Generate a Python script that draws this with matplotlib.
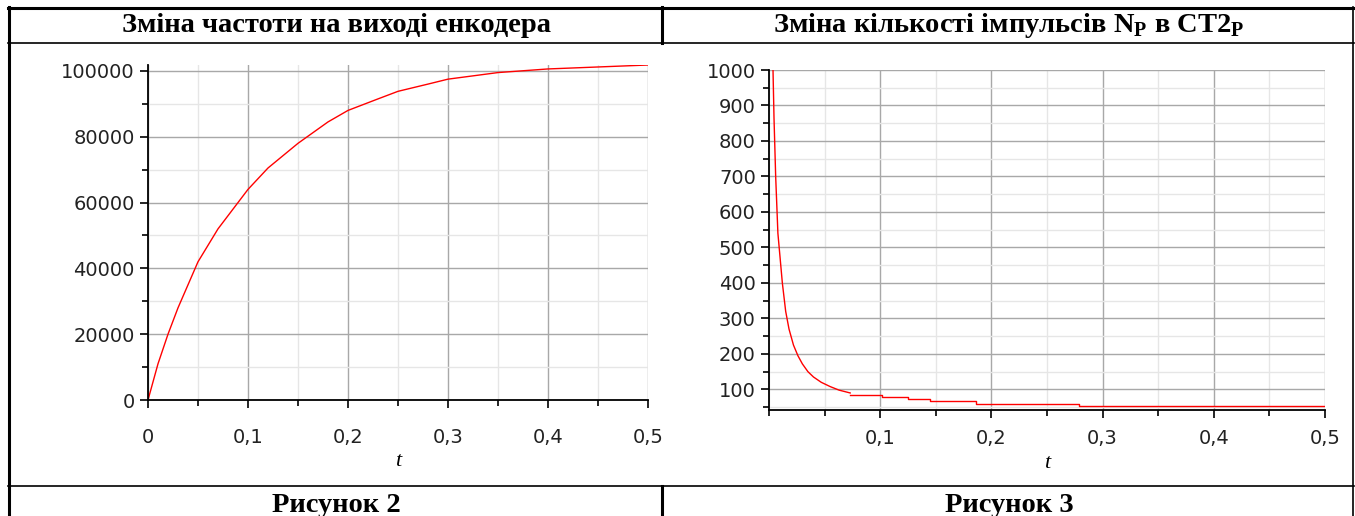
import matplotlib.pyplot as plt
from matplotlib.lines import Line2D
from matplotlib.ticker import MultipleLocator

plt.rcParams['mathtext.fontset'] = 'custom'
plt.rcParams['mathtext.rm'] = 'Liberation Serif:bold'

# encoder output frequency
t_freq = [0.0, 0.005, 0.01, 0.02, 0.03, 0.04, 0.05, 0.06, 0.07, 0.08, 0.10, 0.12, 0.15,
          0.18, 0.20, 0.23, 0.25, 0.28, 0.30, 0.35, 0.40, 0.45, 0.50]
freq = [0, 5500, 11000, 20000, 28000, 35000, 42000, 47000, 52000, 56000, 64000, 70500, 78000,
        84500, 88000, 91500, 93800, 96000, 97500, 99500, 100600, 101200, 101800]

# pulse count N_P, steep start
t_pulse = [0.0036, 0.0045, 0.006, 0.008, 0.010, 0.012, 0.015, 0.018, 0.022, 0.026, 0.030,
           0.035, 0.040, 0.047, 0.055, 0.063, 0.073]
pulses = [1000, 865, 700, 540, 470, 400, 320, 270, 225, 195, 172,
          150, 135, 120, 108, 98, 90]
# pulse count, stepped tail
t_steps = [0.073, 0.102, 0.125, 0.145, 0.186, 0.279, 0.5]
n_steps = [85, 78, 72, 66, 60, 54, 54]

xticks_left = [0, 0.1, 0.2, 0.3, 0.4, 0.5]
xlabels_left = ['0', '0,1', '0,2', '0,3', '0,4', '0,5']
xticks_right = [0.1, 0.2, 0.3, 0.4, 0.5]
xlabels_right = ['0,1', '0,2', '0,3', '0,4', '0,5']
yticks_right = [100, 200, 300, 400, 500, 600, 700, 800, 900, 1000]

W, H = 1355, 516
fig = plt.figure(figsize=(W / 100, H / 100), dpi=100)


def fx(px):
    return px / W


def fy(py):
    return 1 - py / H


# table borders
def hline(y, x0, x1, lw):
    fig.add_artist(Line2D([fx(x0), fx(x1)], [fy(y), fy(y)], color='black', lw=lw))


def vline(x, y0, y1, lw):
    fig.add_artist(Line2D([fx(x), fx(x)], [fy(y0), fy(y1)], color='black', lw=lw))


hline(8, 8, 1354, 2.2)
hline(43, 8, 1354, 1.2)
hline(486, 8, 1354, 1.2)
vline(9, 7, 516, 2.2)
vline(662, 7, 43, 2.2)
vline(662, 486, 516, 2.2)
vline(1353, 7, 516, 1.2)

title_kw = dict(ha='center', va='center', fontsize=20.5, fontweight='bold',
                family='Liberation Serif')
fig.text(fx(336), fy(26), 'Зміна частоти на виході енкодера', **title_kw)
fig.text(fx(1009), fy(26), 'Зміна кількості імпульсів N$_\\mathrm{Р}$ в СТ2$_\\mathrm{Р}$', **title_kw)
fig.text(fx(336), fy(506), 'Рисунок 2', **title_kw)
fig.text(fx(1009), fy(506), 'Рисунок 3', **title_kw)


def style(ax, xpad, tpad):
    for s in ['top', 'right']:
        ax.spines[s].set_visible(False)
    for s in ['left', 'bottom']:
        ax.spines[s].set_linewidth(1.3)
    ax.grid(True, which='major', color='#a8a8a8', lw=1.0)
    ax.grid(True, which='minor', color='#e6e6e6', lw=1.0)
    ax.set_axisbelow(True)
    ax.tick_params(which='major', direction='out', length=6, width=1.2, labelsize=14,
                   colors='black', labelcolor='#222222')
    ax.tick_params(which='minor', direction='out', length=4, width=1.2)
    ax.tick_params(axis='x', pad=xpad)
    ax.set_xlabel('t', fontsize=16, style='italic', family='Liberation Serif', labelpad=tpad)


ax1 = fig.add_axes([fx(148), fy(400), fx(648) - fx(148), fy(65) - fy(400)])
ax1.plot(t_freq, freq, color='red', lw=1.0)
ax1.set_xlim(0, 0.5)
ax1.set_ylim(0, 101800)
ax1.set_xticks(xticks_left)
ax1.set_xticklabels(xlabels_left)
ax1.yaxis.set_major_locator(MultipleLocator(20000))
ax1.yaxis.set_minor_locator(MultipleLocator(10000))
ax1.xaxis.set_minor_locator(MultipleLocator(0.05))
style(ax1, 14, 4)

ax2 = fig.add_axes([fx(769), fy(410), fx(1325) - fx(769), fy(70) - fy(410)])
ax2.plot(t_pulse, pulses, color='red', lw=1.0)
ax2.plot(t_steps, n_steps, color='red', lw=1.0, drawstyle='steps-post')
ax2.set_xlim(0, 0.5)
ax2.set_ylim(42, 1000)
ax2.set_xticks(xticks_right)
ax2.set_xticklabels(xlabels_right)
ax2.set_yticks(yticks_right)
ax2.yaxis.set_minor_locator(MultipleLocator(50))
ax2.xaxis.set_minor_locator(MultipleLocator(0.05))
style(ax2, 8, 4)

fig.savefig('out.png', dpi=100)
